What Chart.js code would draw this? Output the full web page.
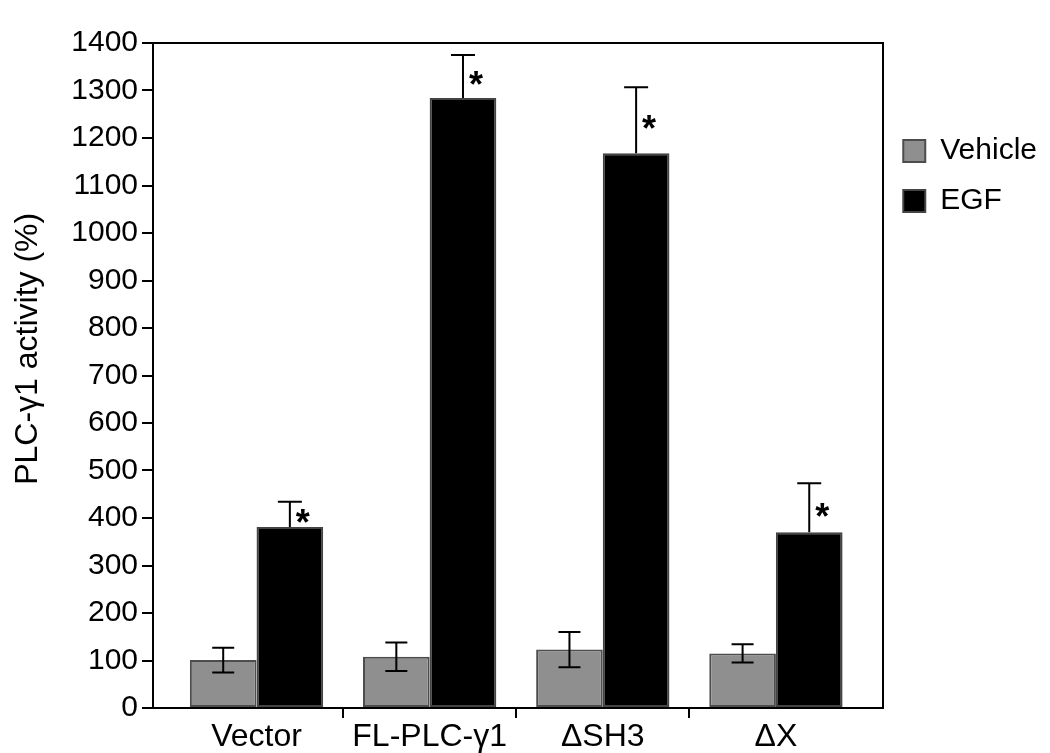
<!DOCTYPE html>
<html>
<head>
<meta charset="utf-8">
<script src="https://cdn.jsdelivr.net/npm/chart.js@4"></script>
<style>
  html, body { margin: 0; padding: 0; background: #fff; }
</style>
</head>
<body>
<canvas id="barChart" width="1050" height="753"></canvas>
<script>
// PLC-γ1 activity, vehicle vs EGF, grouped bars with SEM-style error bars

const categories = ['Vector', 'FL-PLC-γ1', 'ΔSH3', 'ΔX'];
const vehicle = [101, 108, 123, 115];
const vehicleErr = [26, 30, 37, 19];
const egf = [381, 1284, 1168, 370];
const egfErr = [53, 91, 139, 103];
const starred = [true, true, true, true];
const yMin = 0, yMax = 1400, yStep = 100;

const FONT = '"Liberation Sans", Arial, Helvetica, sans-serif';
const xMin = -0.598, xMax = 3.62;

const toPoints = vals => vals.map((v, i) => ({ x: i, y: v }));

// error bars + significance stars, positioned with the chart's own scales
const errorBars = {
  id: 'errorBars',
  afterDatasetsDraw(chart) {
    const { ctx } = chart;
    const yScale = chart.scales.y;
    chart.data.datasets.forEach((ds, di) => {
      const meta = chart.getDatasetMeta(di);
      meta.data.forEach((bar, i) => {
        const v = ds.data[i].y, e = ds.errors[i];
        const top = yScale.getPixelForValue(v + e);
        const bottom = ds.twoSided ? yScale.getPixelForValue(v - e) : bar.y;
        const half = ds.capWidth / 2;
        ctx.save();
        ctx.strokeStyle = '#000';
        ctx.lineWidth = 2;
        ctx.beginPath();
        ctx.moveTo(bar.x, top);
        ctx.lineTo(bar.x, bottom);
        ctx.moveTo(bar.x - half, top);
        ctx.lineTo(bar.x + half, top);
        if (ds.twoSided) {
          ctx.moveTo(bar.x - half, bottom);
          ctx.lineTo(bar.x + half, bottom);
        }
        ctx.stroke();
        if (ds.stars && ds.stars[i]) {
          const mid = yScale.getPixelForValue(v + e / 2);
          ctx.fillStyle = '#000';
          ctx.font = 'bold 36px ' + FONT;
          ctx.textAlign = 'center';
          ctx.textBaseline = 'alphabetic';
          ctx.fillText('*', bar.x + 13, mid + 21);
        }
        ctx.restore();
      });
    });
  }
};

const ctx = document.getElementById('barChart').getContext('2d');
new Chart(ctx, {
  type: 'bar',
  data: {
    datasets: [
      {
        label: 'Vehicle',
        data: toPoints(vehicle),
        errors: vehicleErr,
        twoSided: true,
        capWidth: 22,
        backgroundColor: '#8f8f8f',
        borderColor: '#4d4d4d',
        borderWidth: 2,
        borderSkipped: false
      },
      {
        label: 'EGF',
        data: toPoints(egf),
        errors: egfErr,
        twoSided: false,
        capWidth: 24,
        stars: starred,
        backgroundColor: '#000000',
        borderColor: '#444444',
        borderWidth: 2,
        borderSkipped: false
      }
    ]
  },
  options: {
    responsive: false,
    animation: false,
    devicePixelRatio: 1,
    categoryPercentage: 0.77,
    barPercentage: 1,
    layout: { padding: { top: 43, right: 3, bottom: 0, left: 0 } },
    plugins: {
      tooltip: { enabled: false },
      legend: {
        position: 'right',
        align: 'start',
        title: { display: true, text: '', font: { size: 10 }, padding: { top: 61, bottom: 0 } },
        labels: {
          boxWidth: 22,
          boxHeight: 22,
          padding: 20,
          color: '#000',
          font: { size: 30, family: FONT }
        }
      }
    },
    scales: {
      x: {
        type: 'linear',
        position: 'bottom',
        min: xMin,
        max: xMax,
        offset: false,
        afterFit: s => { s.height = 45; },
        border: { display: true, color: '#000', width: 2 },
        grid: {
          offset: true,
          drawOnChartArea: false,
          drawTicks: true,
          tickLength: 10,
          lineWidth: 2,
          color: c => (c.index >= 1 && c.index <= 3) ? '#000' : 'rgba(0,0,0,0)'
        },
        ticks: {
          stepSize: 1,
          includeBounds: false,
          autoSkip: false,
          maxRotation: 0,
          padding: 0,
          color: '#000',
          font: { size: 32, family: FONT },
          callback: v => categories[v] !== undefined ? categories[v] : ''
        }
      },
      x2: {
        type: 'linear',
        position: 'top',
        min: xMin,
        max: xMax,
        afterFit: s => { s.height = 0; },
        border: { display: true, color: '#000', width: 2 },
        grid: { display: false },
        ticks: { display: false }
      },
      y: {
        min: yMin,
        max: yMax,
        afterFit: s => { s.width = 153; },
        border: { display: true, color: '#000', width: 2 },
        grid: {
          drawOnChartArea: false,
          drawTicks: true,
          tickLength: 11,
          lineWidth: 2,
          color: '#000'
        },
        ticks: {
          stepSize: yStep,
          padding: 4,
          color: '#000',
          font: { size: 30, family: FONT },
          callback: v => String(v)
        },
        title: {
          display: true,
          text: '      PLC-γ1 activity (%)',
          color: '#000',
          padding: { top: 9, bottom: 0 },
          font: { size: 32, family: FONT }
        }
      },
      y2: {
        position: 'right',
        min: yMin,
        max: yMax,
        afterFit: s => { s.width = 0; },
        border: { display: true, color: '#000', width: 2 },
        grid: { display: false },
        ticks: { display: false }
      }
    }
  },
  plugins: [errorBars]
});
</script>
</body>
</html>
